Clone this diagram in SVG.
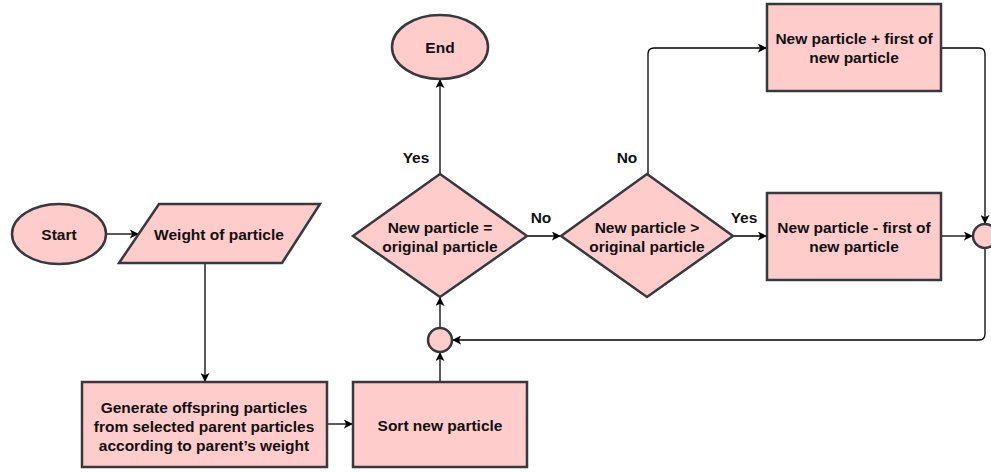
<svg xmlns="http://www.w3.org/2000/svg" width="991" height="472" viewBox="0 0 991 472">
<defs>
<marker id="arr" viewBox="0 0 10 10" refX="9" refY="5" markerWidth="9" markerHeight="9" markerUnits="userSpaceOnUse" orient="auto">
<path d="M0,0 L10,5 L0,10 L2.5,5 Z" fill="#000"/>
</marker>
<style>
.sh{fill:#ffcccc;stroke:#36393d;stroke-width:2.5}
.t{font-family:"Liberation Sans",Arial,sans-serif;font-weight:bold;font-size:15.5px;fill:#111;text-anchor:middle;dominant-baseline:central}
.c{fill:none;stroke:#000;stroke-width:1.3}
</style>
</defs>
<rect width="991" height="472" fill="#fff"/>
<g id="connectors">
<path class="c" d="M106,234 H138" marker-end="url(#arr)"/>
<path class="c" d="M205,264 V381" marker-end="url(#arr)"/>
<path class="c" d="M327,424 H352" marker-end="url(#arr)"/>
<path class="c" d="M440,382 V353" marker-end="url(#arr)"/>
<path class="c" d="M440,328 V298" marker-end="url(#arr)"/>
<path class="c" d="M440,174 V80" marker-end="url(#arr)"/>
<path class="c" d="M527,236 H560" marker-end="url(#arr)"/>
<path class="c" d="M648,174 V54 Q648,48 654,48 H766" marker-end="url(#arr)"/>
<path class="c" d="M733,236 H766" marker-end="url(#arr)"/>
<path class="c" d="M941,48 H979 Q985,48 985,54 V223" marker-end="url(#arr)"/>
<path class="c" d="M941,236 H972" marker-end="url(#arr)"/>
<path class="c" d="M985,248 V334 Q985,340 979,340 H453" marker-end="url(#arr)"/>
<text class="t" x="416" y="157">Yes</text>
<text class="t" x="541" y="217">No</text>
<text class="t" x="627" y="157">No</text>
<text class="t" x="744" y="217">Yes</text>
</g>
<g id="start">
<ellipse class="sh" cx="59" cy="234" rx="47" ry="30"/>
<text class="t" x="59" y="234">Start</text>
</g>
<g id="weight">
<polygon class="sh" points="159,204 320,204 282,263 119,263"/>
<text class="t" x="219" y="234">Weight of particle</text>
</g>
<g id="generate">
<rect class="sh" x="82" y="382" width="245" height="85"/>
<text class="t" x="204" y="407">Generate offspring particles</text>
<text class="t" x="204" y="426">from selected parent particles</text>
<text class="t" x="204" y="445">according to parent’s weight</text>
</g>
<g id="sort">
<rect class="sh" x="353" y="382" width="174" height="85"/>
<text class="t" x="440" y="425">Sort new particle</text>
</g>
<g id="merge1">
<circle class="sh" cx="440" cy="340" r="12"/>
</g>
<g id="decision1">
<polygon class="sh" points="440,174 527,236 440,297 353,236"/>
<text class="t" x="440" y="227">New particle =</text>
<text class="t" x="440" y="246">original particle</text>
</g>
<g id="end">
<ellipse class="sh" cx="440" cy="47" rx="48" ry="32"/>
<text class="t" x="440" y="47">End</text>
</g>
<g id="decision2">
<polygon class="sh" points="647,174 733,236 647,297 561,236"/>
<text class="t" x="647" y="227">New particle &gt;</text>
<text class="t" x="647" y="246">original particle</text>
</g>
<g id="plus">
<rect class="sh" x="767" y="4" width="174" height="87"/>
<text class="t" x="854" y="38">New particle + first of</text>
<text class="t" x="854" y="57">new particle</text>
</g>
<g id="minus">
<rect class="sh" x="767" y="193" width="174" height="87"/>
<text class="t" x="854" y="227">New particle - first of</text>
<text class="t" x="854" y="246">new particle</text>
</g>
<g id="merge2">
<circle class="sh" cx="985" cy="236" r="12"/>
</g>
</svg>
